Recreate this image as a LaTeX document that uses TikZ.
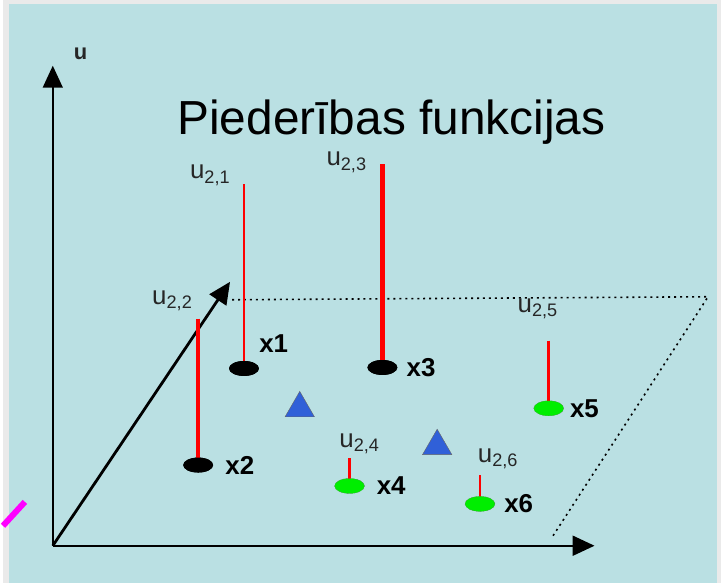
\documentclass[tikz,border=0pt]{standalone}
\usepackage{fontspec}
\setmainfont{Liberation Sans}
\usepackage{tikz}
\usetikzlibrary{arrows.meta,positioning,shapes.geometric}
\definecolor{PanelBlue}{HTML}{BAE0E3}
\definecolor{FrameGray}{HTML}{EAEAEA}
\definecolor{MemberRed}{HTML}{FF0000}
\definecolor{PointGreen}{HTML}{00EE00}
\definecolor{CentreBlue}{HTML}{3060D8}
\definecolor{LabelGray}{HTML}{262626}
\definecolor{MarkPink}{HTML}{FF00FF}

\begin{document}
\begin{tikzpicture}[
  x=1pt, y=-1pt,
  >={Triangle[length=22pt,width=20pt]},
  % ── axes and the plane ───────────────────────────────────────────────────
  axis/.style={->, draw=black, line width=2.2pt},
  plane/.style={draw=black, line width=1.6pt, dash pattern=on 2pt off 4pt},
  % ── data points ─────────────────────────────────────────────────────────
  ptblack/.style={ellipse, fill=black, minimum width=30pt, minimum height=15pt, inner sep=0pt},
  ptgreen/.style={ellipse, fill=PointGreen, draw=black!55, densely dotted,
                  minimum width=30pt, minimum height=15pt, inner sep=0pt},
  centre/.style={regular polygon, regular polygon sides=3, fill=CentreBlue,
                 draw=black!60, minimum size=34pt, inner sep=0pt},
  % ── membership values ───────────────────────────────────────────────────
  member/.style={draw=MemberRed, line width=3pt},
  % ── texts ───────────────────────────────────────────────────────────────
  ptname/.style={font=\bfseries\fontsize{26}{26}\selectfont, inner sep=0pt, anchor=west},
  ulabel/.style={font=\fontsize{26}{26}\selectfont, text=LabelGray, inner sep=0pt},
]

%% ── Frame and panel ──
\fill[FrameGray] (0,0) rectangle (721,585);
\fill[PanelBlue] (6,4) rectangle (717,585);
\draw[MarkPink, line width=6pt] (0,528) -- (22,504);

%% ── Axes ──
\coordinate (O)   at (50,548);
\coordinate (U)   at (50,66);
\coordinate (X)   at (594,548);
\coordinate (D)   at (228,283);
\draw[axis, line width=1.5pt] (O) -- (U);
\draw[axis] (O) -- (X);
\draw[axis, line width=2.8pt] (O) -- (D);
\node[ulabel, font=\bfseries\fontsize{22}{22}\selectfont] (ulab) at (78,54) {u};

%% ── Plane (dotted parallelogram) ──
\coordinate (P1) at (230,301);
\coordinate (P2) at (708,298);
\coordinate (P3) at (551,540);
\draw[plane] (P1) -- (P2) -- (P3);

%% ── Title ──
\node[font=\fontsize{48}{48}\selectfont, anchor=base, inner sep=0pt] (title) at (390,135)
  {Piederības funkcijas};

%% ── Points ──
\node[ptblack] (x1) at (242,370) {};
\node[ptblack] (x2) at (196,467) {};
\node[ptblack] (x3) at (381,369) {};
\node[ptgreen] (x4) at (348,488) {};
\node[ptgreen] (x5) at (548,410) {};
\node[ptgreen] (x6) at (479,506) {};

\node[ptname] (n1) [right=0pt of x1, yshift=25pt] {x1};
\node[ptname] (n2) [right=12pt of x2] {x2};
\node[ptname] (n3) [right=9pt of x3] {x3};
\node[ptname] (n4) [right=12pt of x4] {x4};
\node[ptname] (n5) [right=6pt of x5] {x5};
\node[ptname] (n6) [right=9pt of x6] {x6};

%% ── Cluster centres ──
\node[centre] (c1) at (298,410) {};
\node[centre] (c2) at (436,448) {};

%% ── Membership bars ──
\coordinate (t1) at (242,185);
\coordinate (t2) at (196,320);
\coordinate (t3) at (381,165);
\coordinate (t4) at (348,460);
\coordinate (t5) at (548,342);
\coordinate (t6) at (479,477);
\draw[member, line width=2.5pt] (t1) -- (x1.center);
\draw[member, line width=4pt]   (t2) -- (x2.center);
\draw[member, line width=5pt]   (t3) -- (x3.center);
\draw[member, line width=2.5pt] (t4) -- (x4.center);
\draw[member, line width=2.5pt] (t5) -- (x5.center);
\draw[member, line width=2.5pt] (t6) -- (x6.center);
\node[ptblack] at (x1) {};
\node[ptblack] at (x2) {};
\node[ptblack] at (x3) {};
\node[ptgreen] at (x4) {};
\node[ptgreen] at (x5) {};
\node[ptgreen] at (x6) {};

%% ── Membership labels ──
\node[ulabel] (u1) at (208,176) {u\textsubscript{2,1}};
\node[ulabel] (u2) at (170,302) {u\textsubscript{2,2}};
\node[ulabel] (u3) at (345,163) {u\textsubscript{2,3}};
\node[ulabel] (u4) at (358,446) {u\textsubscript{2,4}};
\node[ulabel] (u5) at (537,310) {u\textsubscript{2,5}};
\node[ulabel] (u6) at (497,461) {u\textsubscript{2,6}};

\end{tikzpicture}
\end{document}
